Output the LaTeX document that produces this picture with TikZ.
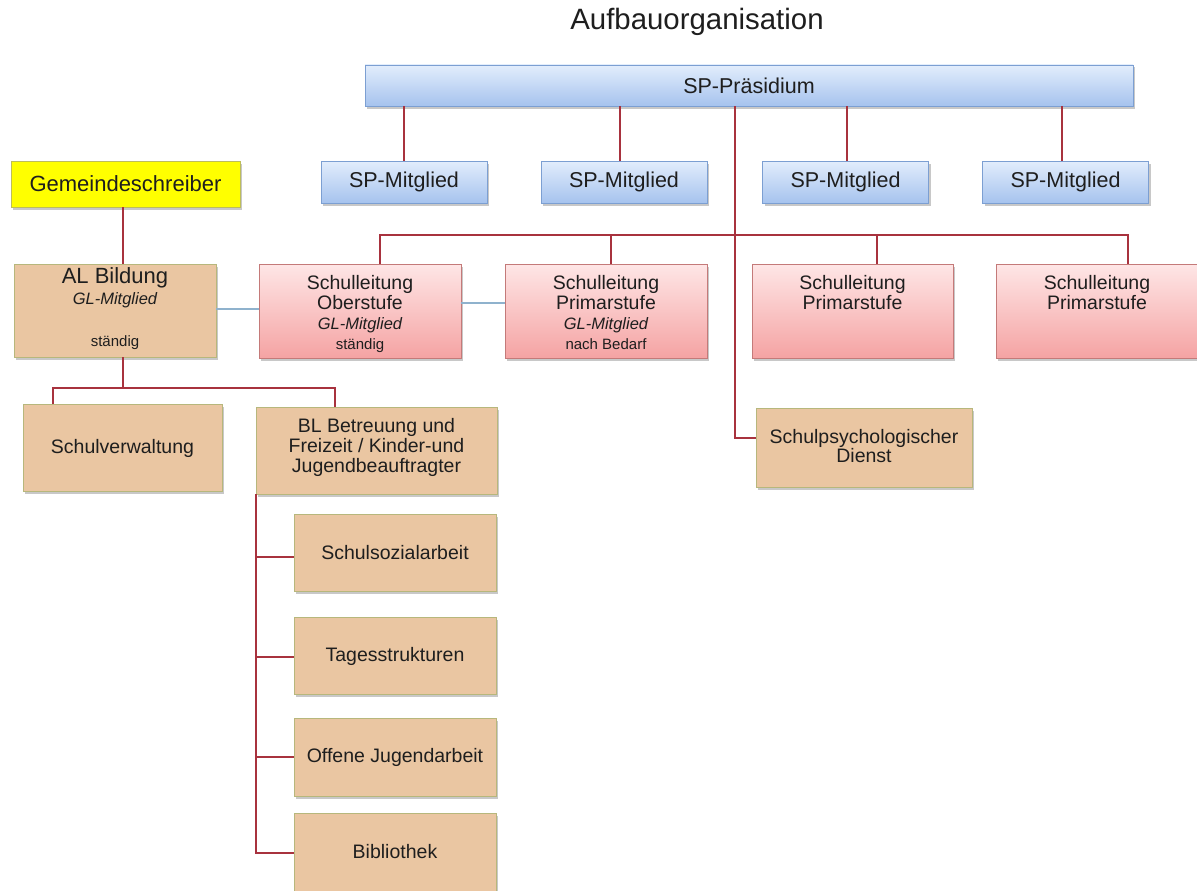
\documentclass[tikz,border=0pt]{standalone}
\usepackage{fontspec}
\setmainfont{Liberation Sans}
\usetikzlibrary{shadows,calc}
\definecolor{bluetop}{HTML}{E2EDFC}
\definecolor{bluebot}{HTML}{A6C3EE}
\definecolor{blueborder}{HTML}{7C9FD2}
\definecolor{pinktop}{HTML}{FEE6E6}
\definecolor{pinkbot}{HTML}{F5A3A3}
\definecolor{pinkborder}{HTML}{C47A79}
\definecolor{tanfill}{HTML}{EAC6A2}
\definecolor{tanborder}{HTML}{B7B77C}
\definecolor{yelfill}{HTML}{FFFF00}
\definecolor{yelborder}{HTML}{BDBD5A}
\definecolor{redline}{HTML}{A8323E}
\definecolor{blueline}{HTML}{8FB2CD}
\definecolor{txt}{HTML}{1E1E1E}
\newcommand{\mainsz}{\fontsize{19.5}{20}\selectfont}
\newcommand{\glm}{{\fontsize{16.5}{20}\selectfont\itshape GL-Mitglied}}
\newcommand{\smallsz}{\fontsize{15}{20}\selectfont}
\begin{document}
\begin{tikzpicture}[x=1pt,y=-1pt,
  base/.style={draw, line width=0.8pt, inner sep=0pt, text=txt,
    drop shadow={shadow xshift=2pt, shadow yshift=-2.5pt, opacity=0.3, fill=black!70}},
  bluebox/.style={base, draw=blueborder, top color=bluetop, bottom color=bluebot,
    font=\fontsize{21.5}{24}\selectfont},
  pinkbox/.style={base, draw=pinkborder, top color=pinktop, bottom color=pinkbot},
  tanbox/.style={base, draw=tanborder, fill=tanfill, font=\mainsz, align=center},
  yelbox/.style={base, draw=yelborder, fill=yelfill, font=\fontsize{22}{24}\selectfont},
  boxtext/.style={anchor=north, inner sep=0pt, align=center, text=txt, font=\mainsz},
  redln/.style={draw=redline, line width=1.1pt},
  blueln/.style={draw=blueline, line width=1.1pt},
]
\useasboundingbox (0,0) rectangle (1197,891);
\fill[white] (0,0) rectangle (1197,891);

\node[text=txt, font=\fontsize{29.4}{34}\selectfont] (title) at (697,22) {Aufbauorganisation};

% top level
\node[bluebox, minimum width=768pt, minimum height=41pt] (praes) at (749,85.5) {SP-Präsidium};
\node[bluebox, minimum width=166pt, minimum height=42pt] (m1) at (404,182) {SP-Mitglied};
\node[bluebox, minimum width=166pt, minimum height=42pt] (m2) at (624,182) {SP-Mitglied};
\node[bluebox, minimum width=166pt, minimum height=42pt] (m3) at (845.5,182) {SP-Mitglied};
\node[bluebox, minimum width=166pt, minimum height=42pt] (m4) at (1065.5,182) {SP-Mitglied};

\node[yelbox, minimum width=229pt, minimum height=46pt] (gs) at (125.5,184) {Gemeindeschreiber};

% AL Bildung
\node[tanbox, minimum width=202pt, minimum height=93pt] (al) at (115,310.5) {};
\node[boxtext, font=\fontsize{22}{21}\selectfont] (altxt) at (115,267) {AL Bildung\\{\fontsize{16.5}{21}\selectfont\itshape GL-Mitglied}\\[21pt]{\smallsz ständig}};

% Schulleitungen
\node[pinkbox, minimum width=202pt, minimum height=94pt] (ober) at (360,311) {};
\node[boxtext] (obertxt) at (360,275) {Schulleitung\\Oberstufe\\\glm\\{\smallsz ständig}};
\node[pinkbox, minimum width=202pt, minimum height=94pt] (prim1) at (606,311) {};
\node[boxtext] (prim1txt) at (606,275) {Schulleitung\\Primarstufe\\\glm\\{\smallsz nach Bedarf}};
\node[pinkbox, minimum width=201pt, minimum height=94pt] (prim2) at (852.5,311) {};
\node[boxtext] (prim2txt) at (852.5,275) {Schulleitung\\Primarstufe};
\node[pinkbox, minimum width=202pt, minimum height=94pt] (prim3) at (1097,311) {};
\node[boxtext] (prim3txt) at (1097,275) {Schulleitung\\Primarstufe};

% lower left
\node[tanbox, minimum width=199pt, minimum height=87pt] (sv) at (122.5,448) {Schulverwaltung};
\node[tanbox, minimum width=241pt, minimum height=87pt] (bl) at (376.5,450.5) {};
\node[boxtext] (bltxt) at (376.5,418) {BL Betreuung und\\Freizeit / Kinder-und\\Jugendbeauftragter};

\node[tanbox, minimum width=216pt, minimum height=79pt] (psych) at (864,447.5) {};
\node[boxtext, font=\fontsize{19.5}{19}\selectfont] (psychtxt) at (864,429) {Schulpsychologischer\\Dienst};

\node[tanbox, minimum width=202pt, minimum height=77pt] (c1) at (395,553) {Schulsozialarbeit};
\node[tanbox, minimum width=202pt, minimum height=77pt] (c2) at (395,656) {Tagesstrukturen};
\node[tanbox, minimum width=202pt, minimum height=78pt] (c3) at (395,757) {Offene Jugendarbeit};
\node[tanbox, minimum width=202pt, minimum height=78pt] (c4) at (395,852) {Bibliothek};

% connectors: Praesidium
\coordinate (p1) at (404,0);
\coordinate (p2) at (620,0);
\coordinate (p3) at (847,0);
\coordinate (p4) at (1062,0);
\draw[redln] (praes.south -| p1) -- (m1.north -| p1);
\draw[redln] (praes.south -| p2) -- (m2.north -| p2);
\draw[redln] (praes.south -| p3) -- (m3.north -| p3);
\draw[redln] (praes.south -| p4) -- (m4.north -| p4);
\coordinate (pj) at (735,438);
\draw[redln] (praes.south -| pj) -- (pj) -- (psych.west |- pj);

% bus to Schulleitungen
\coordinate (b1) at (380,235);
\coordinate (b2) at (611,235);
\coordinate (b3) at (877,235);
\coordinate (b4) at (1128,235);
\draw[redln] (ober.north -| b1) -- (b1) -- (b4) -- (prim3.north -| b4);
\draw[redln] (b2) -- (prim1.north -| b2);
\draw[redln] (b3) -- (prim2.north -| b3);

% Gemeindeschreiber - AL Bildung
\coordinate (g) at (123,388);
\draw[redln] (gs.south -| g) -- (al.north -| g);
\draw[redln] (al.south -| g) -- (g);
\coordinate (d1) at (53,388);
\coordinate (d2) at (335,388);
\draw[redln] (sv.north -| d1) -- (d1) -- (d2) -- (bl.north -| d2);

% GL links
\coordinate (gl1) at (0,309);
\coordinate (gl2) at (0,303);
\draw[blueln] (al.east |- gl1) -- (ober.west |- gl1);
\draw[blueln] (ober.east |- gl2) -- (prim1.west |- gl2);

% BL children
\coordinate (k1) at (256,557);
\coordinate (k2) at (256,657);
\coordinate (k3) at (256,757);
\coordinate (k4) at (256,853);
\draw[redln] (bl.south -| k1) -- (k4) -- (c4.west |- k4);
\draw[redln] (k1) -- (c1.west |- k1);
\draw[redln] (k2) -- (c2.west |- k2);
\draw[redln] (k3) -- (c3.west |- k3);
\end{tikzpicture}
\end{document}
